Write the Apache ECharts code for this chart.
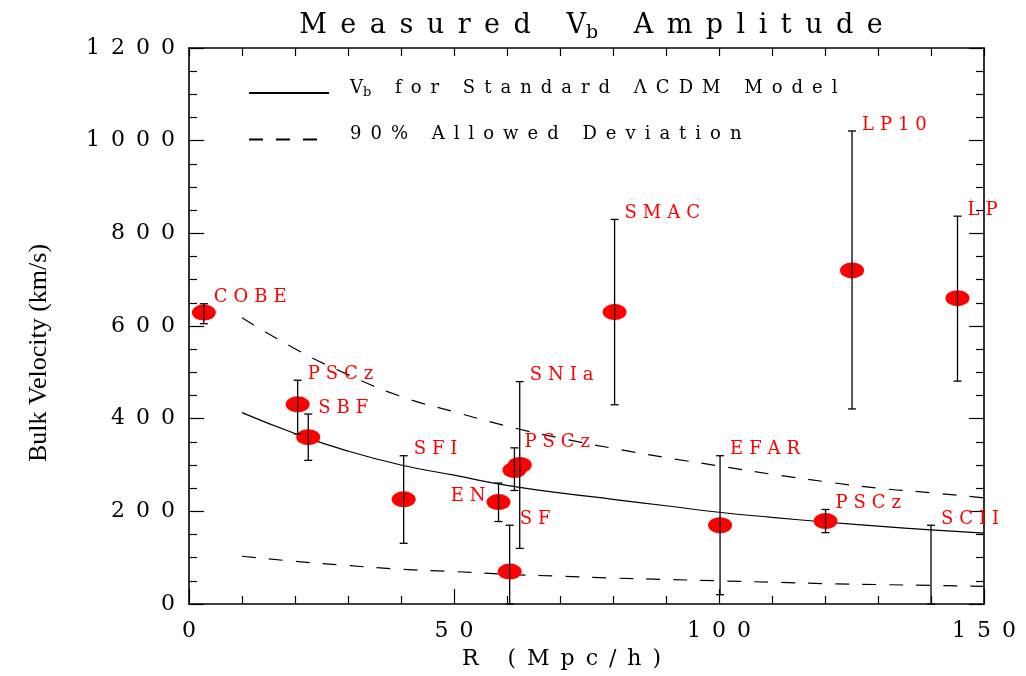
<!DOCTYPE html>
<html><head><meta charset="utf-8">
<script src="https://cdn.jsdelivr.net/npm/echarts@6/dist/echarts.min.js"></script>
<style>html,body{margin:0;padding:0;background:#fff}#c{width:1026px;height:676px}</style>
</head><body><div id="c"></div>
<script>
// ---- data ----
const names    = ['COBE','PSCz','SBF','SFI','EN','SF','PSCz','SNIa','SMAC','EFAR','PSCz','SCII','LP10','LP'];
const radius   = [2.8, 20.5, 22.5, 40.5, 58.4, 60.5, 61.4, 62.4, 80.3, 100.2, 120.1, 140.0, 125.1, 145.0];
const velocity = [629, 431, 360, 226, 220, 70, 289, 300, 630, 170, 179, null, 720, 660];
const errLow   = [605, 367, 310, 131, 178, 0, 245, 120, 430, 20, 154, 0, 421, 481];
const errHigh  = [648, 483, 410, 320, 261, 170, 337, 480, 830, 320, 204, 170, 1021, 837];

const modelR = [10, 20, 30, 40, 50, 60, 70, 80, 90, 100, 110, 120, 130, 140, 150];
const modelV = [413, 368, 330, 300, 278, 256, 240, 226, 212, 198, 187, 177, 168, 160, 153];
const upperV = [618, 551, 495, 448, 415, 384, 358, 336, 316, 298, 280, 264, 250, 240, 229];
const lowerV = [103, 92, 83, 75, 70, 64, 60, 56, 53, 50, 47, 44, 42, 40, 38];

const modelName = 'Vb for Standard ΛCDM Model';
const devName = '90% Allowed Deviation';

// ---- helpers ----
const SERIF = '"DejaVu Serif", serif';
const EN = '\u2002';   // wide letter gap
const TH = '\u2004';   // narrower letter gap
const sp = (s, g) => s.split('').join(g || EN);

const chart = echarts.init(document.getElementById('c'), null, {renderer: 'canvas'});

const axisCommon = {
  type: 'value',
  axisLine: {show: true, onZero: false, lineStyle: {color: '#000', width: 1.6}},
  axisTick: {show: true, inside: true, length: 15, lineStyle: {color: '#000', width: 1.2}},
  minorTick: {show: true, length: 8, lineStyle: {color: '#000', width: 1.2}},
  splitLine: {show: false},
  minorSplitLine: {show: false}
};

const option = {
  backgroundColor: '#fff',
  animation: false,
  title: {
    text: `{a|${sp('Measured V')}}{b|b}{a|${EN}${sp(' Amplitude')}}`,
    left: 586, top: 3, textAlign: 'center',
    textStyle: {
      fontFamily: SERIF, fontSize: 27, fontWeight: 'normal', color: '#000',
      rich: {
        a: {fontFamily: SERIF, fontSize: 27, color: '#000'},
        b: {fontFamily: SERIF, fontSize: 19, color: '#000', padding: [16, 0, 0, 0]}
      }
    }
  },
  legend: {
    orient: 'vertical', left: 243, top: 74,
    itemWidth: 80, itemHeight: 14, itemGap: 26,
    itemStyle: {opacity: 0},
    data: [modelName, devName],
    formatter: name => name === modelName
      ? `{a|V}{b|b}{a|${EN}${sp(' for Standard ΛCDM Model')}}`
      : `{a|${sp(name)}}`,
    textStyle: {
      fontFamily: SERIF, fontSize: 18, color: '#000', padding: [0, 0, 10, 16],
      rich: {
        a: {fontFamily: SERIF, fontSize: 18, color: '#000'},
        b: {fontFamily: SERIF, fontSize: 13, color: '#000', padding: [10, 0, 0, 0]}
      }
    }
  },
  grid: {left: 189, right: 42, top: 48, bottom: 72, containLabel: false},
  xAxis: [
    Object.assign({}, axisCommon, {
      position: 'bottom', min: 0, max: 150, interval: 50,
      minorTick: Object.assign({}, axisCommon.minorTick, {splitNumber: 5}),
      axisLabel: {show: true, margin: 16, color: '#000', fontFamily: SERIF, fontSize: 22, formatter: v => sp(String(v))},
      name: sp('R (Mpc/h)'), nameLocation: 'middle', nameGap: 44,
      nameTextStyle: {fontFamily: SERIF, fontSize: 22, color: '#000', padding: [0, 50, 0, 0]}
    }),
    Object.assign({}, axisCommon, {
      position: 'top', min: 0, max: 150, interval: 50,
      axisTick: Object.assign({}, axisCommon.axisTick, {length: 8}),
      minorTick: Object.assign({}, axisCommon.minorTick, {splitNumber: 5}),
      axisLabel: {show: false}
    })
  ],
  yAxis: [
    Object.assign({}, axisCommon, {
      position: 'left', min: 0, max: 1200, interval: 200,
      minorTick: Object.assign({}, axisCommon.minorTick, {splitNumber: 4}),
      axisLabel: {show: true, margin: 14, color: '#000', fontFamily: SERIF, fontSize: 22, formatter: v => sp(String(v))},
      name: 'Bulk Velocity (km/s)', nameLocation: 'middle', nameGap: 137, nameRotate: 90,
      nameTextStyle: {fontFamily: '"Liberation Serif", serif', fontSize: 26, color: '#000', padding: [0, 54, 0, 0]}
    }),
    Object.assign({}, axisCommon, {
      position: 'right', min: 0, max: 1200, interval: 200,
      minorTick: Object.assign({}, axisCommon.minorTick, {splitNumber: 4}),
      axisLabel: {show: false}
    })
  ],
  series: [
    {
      type: 'line', name: modelName, smooth: true, symbol: 'none', z: 2,
      data: modelR.map((r, i) => [r, modelV[i]]),
      lineStyle: {color: '#000', width: 1.2}, itemStyle: {color: '#000'}
    },
    {
      type: 'line', name: devName, smooth: true, symbol: 'none', z: 2,
      data: modelR.map((r, i) => [r, upperV[i]]),
      lineStyle: {color: '#000', width: 1.2, type: [14, 13]}, itemStyle: {color: '#000'}
    },
    {
      type: 'line', name: devName, smooth: true, symbol: 'none', z: 2,
      data: modelR.map((r, i) => [r, lowerV[i]]),
      lineStyle: {color: '#000', width: 1.2, type: [14, 13]}, itemStyle: {color: '#000'}
    },
    {
      type: 'scatter', name: 'points', z: 3,
      symbol: 'circle', symbolSize: [24, 16],
      itemStyle: {color: '#ff0000', opacity: 1},
      data: radius.map((r, i) => velocity[i] == null ? null : [r, velocity[i]]).filter(d => d)
    },
    {
      type: 'custom', name: 'errors', z: 4,
      data: radius.map((r, i) => [r, errLow[i], errHigh[i], velocity[i] == null ? errLow[i] : velocity[i]]),
      renderItem: (params, api) => {
        const i = params.dataIndex;
        const top = api.coord([api.value(0), api.value(2)]);
        const bot = api.coord([api.value(0), api.value(1)]);
        const c = 4;
        const ls = {stroke: '#000', lineWidth: 1.3};
        const children = [
          {type: 'line', shape: {x1: top[0], y1: top[1], x2: bot[0], y2: bot[1]}, style: ls},
          {type: 'line', shape: {x1: top[0] - c, y1: top[1], x2: top[0] + c, y2: top[1]}, style: ls},
          {type: 'line', shape: {x1: bot[0] - c, y1: bot[1], x2: bot[0] + c, y2: bot[1]}, style: ls}
        ];
        let tx, ty, align;
        if (names[i] === 'EN') {
          const p = api.coord([api.value(0), api.value(3)]);
          tx = p[0] - 13; ty = p[1] - 6; align = 'right';
        } else {
          tx = top[0] + 10; ty = top[1] - 6; align = 'left';
        }
        children.push({
          type: 'text', x: tx, y: ty,
          style: {text: sp(names[i], TH), fill: '#ff0000', font: '18px "DejaVu Serif"', align: align, verticalAlign: 'middle'}
        });
        return {type: 'group', children: children};
      }
    }
  ]
};
chart.setOption(option);
</script>
</body></html>
